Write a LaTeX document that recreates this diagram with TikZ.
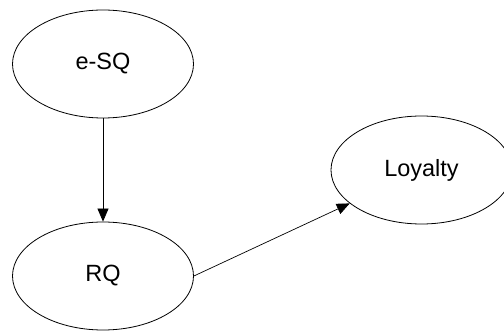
\documentclass[tikz,border=0pt]{standalone}
\usepackage{fontspec}
\setmainfont{Liberation Sans}
\usetikzlibrary{shapes.geometric,arrows.meta}
\begin{document}
\begin{tikzpicture}[x=1pt,y=1pt,
  ell/.style={ellipse,draw,line width=0.8pt,minimum width=181pt,minimum height=108pt,inner sep=0pt,font=\fontsize{23.5}{26}\selectfont},
  conn/.style={line width=0.7pt,-{Triangle[length=13pt,width=11pt]}}]
\useasboundingbox (0,0) rectangle (504,332);
\node[ell] (esq) at (103,268) {e-SQ};
\node[ell] (rq) at (103,56) {RQ};
\node[ell] (loy) at (421.5,162) {Loyalty};
\draw[conn] (esq) -- (rq);
\draw[conn] (rq.east) -- (loy);
\end{tikzpicture}
\end{document}
